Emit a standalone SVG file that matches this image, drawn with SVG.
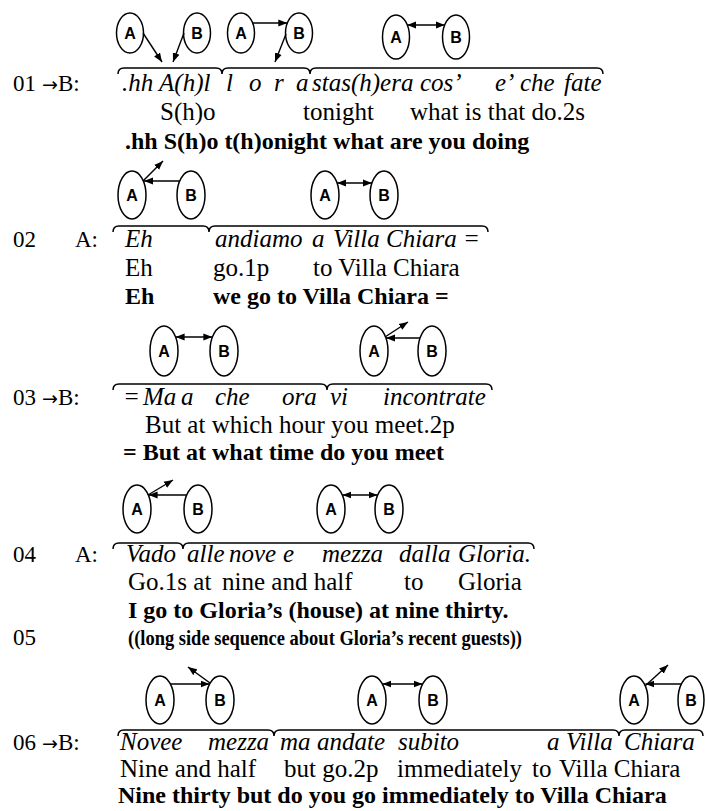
<svg xmlns="http://www.w3.org/2000/svg" width="705" height="811" viewBox="0 0 705 811">
<defs>
<marker id="ah" markerUnits="userSpaceOnUse" markerWidth="10" markerHeight="8" refX="9" refY="4" orient="auto-start-reverse"><path d="M0,0.5 L9,4 L0,7.5 z" fill="#000"/></marker>
</defs>
<style>
.n ellipse{fill:#fff;stroke:#000;stroke-width:1.5}
.n text{font-family:"Liberation Sans",Arial,sans-serif;font-size:16px;font-weight:bold;text-anchor:middle}
.c line{stroke:#000;stroke-width:1.4}
.ar{marker-end:url(#ah)}
.dbl{marker-start:url(#ah);marker-end:url(#ah)}
.br{fill:none;stroke:#000;stroke-width:1.5}
text.t{font-family:"Liberation Serif","Times New Roman",serif;font-size:25px;font-style:italic}
text.g{font-family:"Liberation Serif","Times New Roman",serif;font-size:25px}
text.b{font-family:"Liberation Serif","Times New Roman",serif;font-size:24px;font-weight:bold}
text.l{font-family:"Liberation Serif","Times New Roman",serif;font-size:23px}
tspan.arw{font-family:"DejaVu Sans",sans-serif;font-size:19px}
</style>
<rect width="705" height="811" fill="#fff"/>

<!-- nodes -->
<g id="r1-A1" class="n"><ellipse cx="130" cy="33" rx="13.5" ry="20"/><text x="130" y="39">A</text></g>
<g id="r1-B1" class="n"><ellipse cx="197" cy="33" rx="13.5" ry="20"/><text x="197" y="39">B</text></g>
<g id="r1-A2" class="n"><ellipse cx="241" cy="33" rx="13.5" ry="20"/><text x="241" y="39">A</text></g>
<g id="r1-B2" class="n"><ellipse cx="299" cy="33" rx="13.5" ry="20"/><text x="299" y="39">B</text></g>
<g id="r1-A3" class="n"><ellipse cx="396" cy="37" rx="13.5" ry="22"/><text x="396" y="43">A</text></g>
<g id="r1-B3" class="n"><ellipse cx="456" cy="37" rx="13.5" ry="22"/><text x="456" y="43">B</text></g>

<g id="r2-A1" class="n"><ellipse cx="132" cy="195" rx="14" ry="24"/><text x="132" y="201">A</text></g>
<g id="r2-B1" class="n"><ellipse cx="191" cy="195" rx="14" ry="24"/><text x="191" y="201">B</text></g>
<g id="r2-A2" class="n"><ellipse cx="325" cy="195" rx="14" ry="24"/><text x="325" y="201">A</text></g>
<g id="r2-B2" class="n"><ellipse cx="384" cy="195" rx="14" ry="24"/><text x="384" y="201">B</text></g>

<g id="r3-A1" class="n"><ellipse cx="164" cy="351" rx="14" ry="25"/><text x="164" y="357">A</text></g>
<g id="r3-B1" class="n"><ellipse cx="224" cy="351" rx="14" ry="25"/><text x="224" y="357">B</text></g>
<g id="r3-A2" class="n"><ellipse cx="374" cy="351" rx="14" ry="25"/><text x="374" y="357">A</text></g>
<g id="r3-B2" class="n"><ellipse cx="432" cy="351" rx="14" ry="25"/><text x="432" y="357">B</text></g>

<g id="r4-A1" class="n"><ellipse cx="137" cy="509" rx="14" ry="24"/><text x="137" y="515">A</text></g>
<g id="r4-B1" class="n"><ellipse cx="198" cy="509" rx="14" ry="24"/><text x="198" y="515">B</text></g>
<g id="r4-A2" class="n"><ellipse cx="331" cy="509" rx="14" ry="24"/><text x="331" y="515">A</text></g>
<g id="r4-B2" class="n"><ellipse cx="389" cy="509" rx="14" ry="24"/><text x="389" y="515">B</text></g>

<g id="r6-A1" class="n"><ellipse cx="160" cy="700" rx="14" ry="24"/><text x="160" y="706">A</text></g>
<g id="r6-B1" class="n"><ellipse cx="220" cy="700" rx="14" ry="24"/><text x="220" y="706">B</text></g>
<g id="r6-A2" class="n"><ellipse cx="372" cy="700" rx="14" ry="24"/><text x="372" y="706">A</text></g>
<g id="r6-B2" class="n"><ellipse cx="433" cy="700" rx="14" ry="24"/><text x="433" y="706">B</text></g>
<g id="r6-A3" class="n"><ellipse cx="634" cy="700" rx="14" ry="24"/><text x="634" y="706">A</text></g>
<g id="r6-B3" class="n"><ellipse cx="691" cy="700" rx="13" ry="24"/><text x="691" y="706">B</text></g>

<!-- connectors -->
<g id="connectors" class="c">
<line class="ar" x1="143" y1="33" x2="162" y2="62"/>
<line class="ar" x1="184" y1="33" x2="173" y2="62"/>
<line class="ar" x1="252.7" y1="23" x2="287.3" y2="23"/>
<line class="ar" x1="286" y1="34" x2="275" y2="62"/>
<line class="dbl" x1="407.3" y1="25" x2="444.7" y2="25"/>

<line class="ar" x1="143" y1="181" x2="163" y2="161"/>
<line class="ar" x1="179.6" y1="181" x2="144" y2="181"/>
<line class="dbl" x1="337.1" y1="183" x2="371.9" y2="183"/>

<line class="dbl" x1="175.6" y1="337" x2="212.4" y2="337"/>
<line class="ar" x1="385" y1="337" x2="408" y2="322"/>
<line class="ar" x1="420" y1="338" x2="386" y2="338"/>

<line class="ar" x1="148" y1="495" x2="173" y2="480"/>
<line class="ar" x1="186.6" y1="495" x2="148.6" y2="495"/>
<line class="dbl" x1="342.4" y1="495" x2="377.6" y2="495"/>

<line class="ar" x1="170.4" y1="684" x2="209.6" y2="684"/>
<line class="ar" x1="210" y1="683" x2="188" y2="667"/>
<line class="dbl" x1="382.4" y1="684" x2="422.6" y2="684"/>
<line class="ar" x1="645" y1="686" x2="668" y2="665"/>
<line class="ar" x1="681.6" y1="684" x2="645.4" y2="684"/>
</g>

<!-- braces -->
<g id="braces">
<path class="br" d="M118,74 Q118,68 124,68 L216,68 Q222,68 222,74 Q222,68 228,68 L304,68 Q310,68 310,74 Q310,68 316,68 L597,68 Q603,68 603,74"/>
<path class="br" d="M113,232 Q113,226 119,226 L203,226 Q209,226 209,232 Q209,226 215,226 L482,226 Q488,226 488,232"/>
<path class="br" d="M113,390 Q113,384 119,384 L321,384 Q327,384 327,390 Q327,384 333,384 L486,384 Q492,384 492,390"/>
<path class="br" d="M113,549 Q113,543 119,543 L177,543 Q183,543 183,549 Q183,543 189,543 L528,543 Q534,543 534,549"/>
<path class="br" d="M118,736 Q118,730 124,730 L268,730 Q274,730 274,736 Q274,730 280,730 L613,730 Q619,730 619,736 Q619,730 625,730 L697,730 Q703,730 703,736"/>
</g>

<!-- line 01 -->
<g id="line01">
<text class="l" x="13" y="91">01</text>
<text class="l" x="42" y="91"><tspan class="arw">→</tspan>B:</text>
<text class="t" x="122" y="91">.hh A(h)l</text>
<text class="t" x="226" y="91">l</text>
<text class="t" x="249" y="91">o</text>
<text class="t" x="274" y="91">r</text>
<text class="t" x="296" y="91">a</text>
<text class="t" x="312" y="91">stas(h)era</text>
<text class="t" x="420" y="91">cos’</text>
<text class="t" x="495" y="91">e’</text>
<text class="t" x="520" y="91">che</text>
<text class="t" x="564" y="91">fate</text>
<text class="g" x="160" y="120">S(h)o</text>
<text class="g" x="303" y="120">tonight</text>
<text class="g" x="410" y="120">what is that do.2s</text>
<text class="b" x="125" y="149">.hh S(h)o t(h)onight what are you doing</text>
</g>

<!-- line 02 -->
<g id="line02">
<text class="l" x="13" y="247">02</text>
<text class="l" x="75" y="247">A:</text>
<text class="t" x="125" y="247">Eh</text>
<text class="t" x="215" y="247">andiamo</text>
<text class="t" x="312" y="247">a</text>
<text class="t" x="333" y="247">Villa Chiara =</text>
<text class="g" x="125" y="276">Eh</text>
<text class="g" x="213" y="276">go.1p</text>
<text class="g" x="313" y="276">to Villa Chiara</text>
<text class="b" x="125" y="304">Eh</text>
<text class="b" x="213" y="304">we go to Villa Chiara =</text>
</g>

<!-- line 03 -->
<g id="line03">
<text class="l" x="13" y="405">03</text>
<text class="l" x="42" y="405"><tspan class="arw">→</tspan>B:</text>
<text class="t" x="123" y="405">=</text>
<text class="t" x="143" y="405">Ma</text>
<text class="t" x="181" y="405">a</text>
<text class="t" x="215" y="405">che</text>
<text class="t" x="282" y="405">ora</text>
<text class="t" x="330" y="405">vi</text>
<text class="t" x="383" y="405">incontrate</text>
<text class="g" x="145" y="433">But at which hour you meet.2p</text>
<text class="b" x="123" y="460">= But at what time do you meet</text>
</g>

<!-- line 04 -->
<g id="line04">
<text class="l" x="13" y="562">04</text>
<text class="l" x="75" y="562">A:</text>
<text class="t" x="126" y="562">Vado</text>
<text class="t" x="187" y="562">alle</text>
<text class="t" x="229" y="562">nove</text>
<text class="t" x="283" y="562">e</text>
<text class="t" x="322" y="562">mezza</text>
<text class="t" x="399" y="562">dalla</text>
<text class="t" x="458" y="562">Gloria.</text>
<text class="g" x="128" y="590">Go.1s at</text>
<text class="g" x="222" y="590">nine and half</text>
<text class="g" x="404" y="590">to</text>
<text class="g" x="458" y="590">Gloria</text>
<text class="b" x="128" y="618">I go to Gloria’s (house) at nine thirty.</text>
</g>

<!-- line 05 -->
<g id="line05">
<text class="l" x="13" y="645">05</text>
<text class="b" x="128" y="645" style="font-size:22px" textLength="394" lengthAdjust="spacingAndGlyphs">((long side sequence about Gloria’s recent guests))</text>
</g>

<!-- line 06 -->
<g id="line06">
<text class="l" x="13" y="750">06</text>
<text class="l" x="42" y="750"><tspan class="arw">→</tspan>B:</text>
<text class="t" x="120" y="750">Novee</text>
<text class="t" x="208" y="750">mezza</text>
<text class="t" x="280" y="750">ma</text>
<text class="t" x="317" y="750">andate</text>
<text class="t" x="398" y="750">subito</text>
<text class="t" x="547" y="750">a</text>
<text class="t" x="566" y="750">Villa</text>
<text class="t" x="624" y="750">Chiara</text>
<text class="g" x="120" y="777">Nine and half</text>
<text class="g" x="284" y="777">but go.2p</text>
<text class="g" x="397" y="777">immediately</text>
<text class="g" x="532" y="777">to</text>
<text class="g" x="559" y="777">Villa Chiara</text>
<text class="b" x="118" y="803">Nine thirty but do you go immediately to Villa Chiara</text>
</g>
</svg>
